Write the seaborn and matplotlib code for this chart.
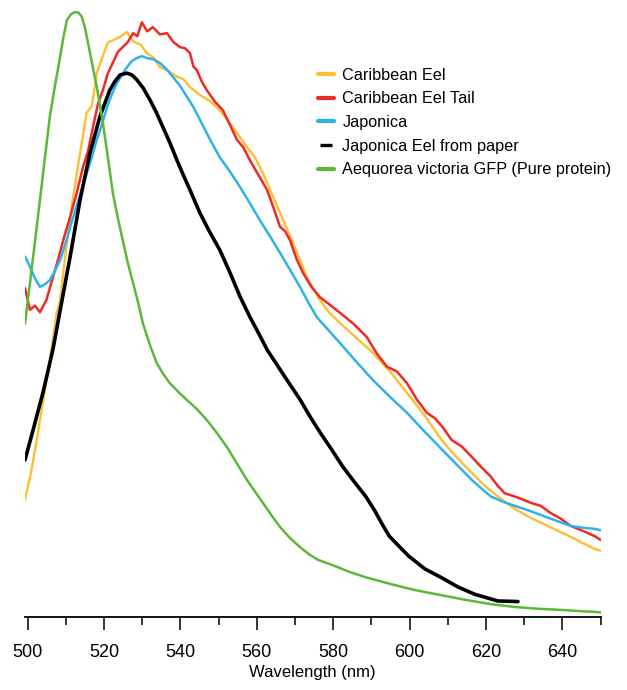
import matplotlib
matplotlib.use("Agg")
import matplotlib.pyplot as plt
from matplotlib.ticker import MultipleLocator
from matplotlib.lines import Line2D
import seaborn as sns
import pandas as pd

# ---------------- data ----------------
series_names = [
    "Caribbean Eel",
    "Caribbean Eel Tail",
    "Japonica",
    "Japonica Eel from paper",
    "Aequorea victoria GFP (Pure protein)",
]
series_colors = ["#FDBE33", "#EE2A24", "#2DB3EA", "#000000", "#5CB83A"]

wl_carib = [499.3, 500.9, 502.4, 504.1, 505.8, 507.6, 508.5, 510.0, 511.5, 513.4,
            514.6, 515.4, 516.8, 518.1, 519.6, 521.0, 522.6, 524.2, 526.0, 527.0,
            528.1, 529.6, 531.2, 532.9, 534.6, 536.8, 539.1, 540.8, 542.5, 545.1,
            547.7, 550.3, 553.7, 557.4, 559.5, 561.6, 563.9, 566.1, 569.5, 573.1,
            576.5, 579.0, 581.8, 586.0, 590.4, 595.0, 599.3, 604.0, 608.4, 611.5,
            614.5, 619.7, 623.5, 627.6, 631.5, 635.2, 638.8, 642.2, 645.5, 648.5,
            650.0]
int_carib = [19.5, 24.0, 29.3, 36.0, 42.5, 50.3, 52.4, 60.5, 67.8, 75.5,
             80.0, 83.3, 84.5, 89.9, 92.6, 95.0, 95.4, 95.9, 96.7, 95.6,
             95.0, 94.6, 93.2, 92.5, 90.9, 90.3, 89.3, 88.9, 87.6, 86.3,
             85.3, 83.8, 81.0, 77.7, 76.0, 73.4, 70.0, 66.8, 61.8, 56.2,
             52.4, 50.3, 48.6, 46.2, 43.7, 40.5, 37.1, 33.3, 29.3, 27.0,
             25.0, 21.7, 19.8, 17.9, 16.5, 15.4, 14.3, 13.3, 12.2, 11.3,
             11.0]

wl_tail = [499.3, 500.6, 501.9, 503.2, 504.9, 506.3, 507.7, 509.4, 511.1, 512.8,
           514.5, 515.8, 517.1, 518.4, 519.7, 521.0, 522.3, 523.6, 524.9, 526.2,
           527.6, 528.7, 529.9, 531.3, 532.8, 534.6, 536.5, 538.2, 539.9, 541.2,
           542.5, 543.4, 544.3, 545.6, 546.9, 549.0, 551.1, 553.0, 554.8, 556.5,
           558.2, 560.5, 562.7, 564.4, 566.1, 567.4, 568.7, 570.4, 572.1, 574.3,
           576.5, 579.2, 581.8, 585.3, 588.8, 591.5, 594.1, 596.7, 599.3, 601.9,
           604.5, 606.6, 608.7, 611.0, 613.7, 616.3, 618.8, 621.2, 623.0, 624.9,
           628.3, 631.8, 634.4, 637.0, 639.6, 642.2, 645.3, 648.5, 650.0]
int_tail = [54.4, 50.8, 51.5, 50.4, 52.4, 55.5, 58.5, 62.5, 66.1, 70.0,
            74.4, 77.0, 81.0, 84.8, 87.1, 89.9, 91.6, 93.4, 94.2, 95.0,
            96.5, 96.0, 98.3, 96.8, 97.5, 96.3, 96.5, 95.0, 94.2, 94.0,
            93.2, 91.0, 90.4, 88.5, 87.1, 85.2, 83.8, 81.3, 78.9, 77.6,
            75.5, 73.0, 70.6, 67.6, 64.5, 63.8, 62.3, 59.2, 56.9, 54.6,
            52.9, 51.6, 50.3, 48.5, 46.3, 43.5, 41.4, 40.6, 38.7, 36.0,
            33.8, 32.9, 31.4, 29.3, 28.2, 26.5, 24.8, 23.3, 21.8, 20.5,
            19.8, 18.9, 18.4, 17.2, 16.3, 15.1, 14.3, 13.4, 12.8]

wl_japonica = [499.3, 500.6, 501.9, 503.2, 504.5, 505.8, 507.1, 508.5, 510.2, 511.9,
               513.7, 515.5, 516.8, 518.1, 519.5, 520.8, 522.1, 523.4, 524.7, 526.0,
               527.3, 528.6, 529.9, 531.2, 532.9, 534.6, 536.3, 538.0, 539.9, 541.7,
               543.4, 545.1, 547.7, 550.3, 553.0, 555.6, 558.2, 560.8, 563.5, 566.1,
               568.7, 571.3, 573.5, 575.7, 578.8, 581.8, 586.1, 590.4, 594.9, 599.3,
               603.6, 607.9, 612.1, 616.3, 618.8, 621.2, 624.4, 627.6, 631.4, 635.2,
               638.7, 642.2, 645.4, 648.5, 650.0]
int_japonica = [59.6, 57.9, 56.0, 54.6, 55.0, 55.7, 57.2, 59.0, 62.4, 66.1,
                69.8, 73.4, 76.0, 78.9, 81.6, 84.3, 86.5, 88.3, 89.6, 90.9,
                91.9, 92.4, 92.7, 92.4, 92.2, 91.6, 90.6, 89.3, 87.8, 86.0,
                84.3, 82.2, 79.0, 76.0, 73.6, 71.1, 68.4, 65.6, 62.9, 60.2,
                57.4, 54.6, 52.0, 49.6, 47.4, 45.3, 42.2, 39.2, 36.4, 33.8,
                30.9, 28.1, 25.4, 22.7, 21.3, 20.0, 19.1, 18.4, 17.6, 16.7,
                15.9, 15.1, 14.8, 14.6, 14.4]

wl_paper = [499.3, 501.4, 504.0, 506.6, 509.0, 511.1, 513.7, 516.3, 518.9, 521.5,
            522.9, 524.2, 526.0, 527.3, 528.6, 530.3, 532.0, 533.7, 535.4, 537.3,
            539.1, 540.8, 542.5, 545.1, 547.7, 550.3, 553.0, 555.6, 558.2, 560.5,
            562.7, 565.3, 567.9, 571.3, 573.9, 576.5, 579.5, 582.5, 585.5, 588.6,
            590.9, 592.9, 594.7, 597.3, 599.8, 604.0, 608.5, 612.7, 617.1, 623.1,
            628.4]
int_paper = [26.0, 30.9, 37.1, 44.2, 52.4, 59.5, 68.9, 76.7, 82.7, 87.1,
             88.6, 89.6, 89.9, 89.6, 88.8, 87.4, 85.5, 83.4, 81.0, 78.3,
             75.5, 73.0, 70.6, 66.8, 63.6, 60.7, 56.9, 53.0, 49.6, 46.9,
             44.2, 41.7, 39.2, 36.0, 33.2, 30.6, 27.8, 24.9, 22.4, 19.9,
             17.6, 15.3, 13.4, 11.7, 10.1, 8.0, 6.5, 5.0, 3.8, 2.7,
             2.6]

wl_gfp = [499.3, 500.6, 501.9, 503.2, 504.5, 505.8, 507.2, 508.5, 509.4, 510.3,
          511.3, 512.4, 513.3, 514.2, 515.0, 515.8, 516.9, 518.1, 519.7, 521.0,
          522.3, 523.6, 524.9, 526.2, 527.6, 529.0, 530.2, 532.0, 533.8, 535.5,
          537.2, 539.5, 541.7, 544.3, 546.9, 549.5, 552.2, 554.8, 557.4, 559.5,
          561.6, 563.9, 566.1, 568.7, 571.3, 573.7, 576.0, 579.9, 584.3, 588.6,
          595.0, 601.4, 607.9, 614.5, 621.0, 627.6, 634.0, 640.4, 645.0, 648.5,
          650.0]
int_gfp = [48.5, 55.2, 62.0, 68.9, 75.8, 82.7, 88.0, 92.6, 96.0, 98.7,
           99.6, 100.0, 99.9, 99.2, 97.4, 94.9, 91.4, 87.6, 81.7, 76.0,
           70.1, 66.0, 62.3, 58.6, 55.2, 51.8, 48.5, 45.0, 42.0, 40.2,
           38.7, 37.2, 35.9, 34.4, 32.6, 30.5, 28.1, 25.4, 22.7, 20.8,
           18.9, 16.8, 14.9, 13.1, 11.6, 10.4, 9.5, 8.6, 7.5, 6.6,
           5.5, 4.5, 3.7, 2.9, 2.2, 1.7, 1.4, 1.2, 1.0, 0.9,
           0.8]

x_major_ticks = [500, 520, 540, 560, 580, 600, 620, 640]
x_label = "Wavelength (nm)"

# ---------------- drawing ----------------
sns.set_theme(style="white")
plt.rcParams["font.family"] = ["Liberation Sans", "DejaVu Sans"]

fig = plt.figure(figsize=(6.27, 6.90), dpi=100)
ax = fig.add_axes([25 / 627, (690 - 617.3) / 690, (600.5 - 25) / 627, 617.3 / 690])

all_wl = [wl_carib, wl_tail, wl_japonica, wl_paper, wl_gfp]
all_int = [int_carib, int_tail, int_japonica, int_paper, int_gfp]
widths = [1.7, 1.8, 1.8, 2.6, 1.8]

for name, wl, inten, col, lw in zip(series_names, all_wl, all_int, series_colors, widths):
    df = pd.DataFrame({"Wavelength": wl, "Intensity": inten})
    sns.lineplot(data=df, x="Wavelength", y="Intensity", ax=ax, color=col,
                 linewidth=lw, sort=False, estimator=None, legend=False)

ax.set_xlim(499.3, 650.0)
ax.set_ylim(0, 617.3 / 6.053)

for side in ["left", "top", "right"]:
    ax.spines[side].set_visible(False)
ax.spines["bottom"].set_color("black")
ax.spines["bottom"].set_linewidth(1.3)
ax.set_yticks([])
ax.set_ylabel("")

ax.set_xticks(x_major_ticks)
ax.xaxis.set_minor_locator(MultipleLocator(10))
ax.tick_params(axis="x", which="major", direction="out", length=9.4, width=1.1,
               colors="black", labelsize=13, pad=10, bottom=True)
ax.tick_params(axis="x", which="minor", direction="out", length=5.8, width=1.1,
               colors="black", bottom=True)
ax.set_xlabel(x_label, fontsize=12, color="black", labelpad=3)

handles = []
for i, col in enumerate(series_colors):
    if i == 3:
        handles.append(Line2D([], [], color=col, marker="_", linestyle="None",
                              markersize=8, markeredgewidth=2.4))
    else:
        handles.append(Line2D([], [], color=col, linewidth=3))

leg = ax.legend(handles, series_names, loc="upper left",
                bbox_to_anchor=(318 / 627, 1 - 67.5 / 690), bbox_transform=fig.transFigure,
                frameon=False, fontsize=11.7, handlelength=1.0, handletextpad=0.5,
                labelspacing=0.535, borderpad=0, borderaxespad=0)
for t in leg.get_texts():
    t.set_color("black")

fig.savefig("out.png", dpi=100, facecolor="white")
